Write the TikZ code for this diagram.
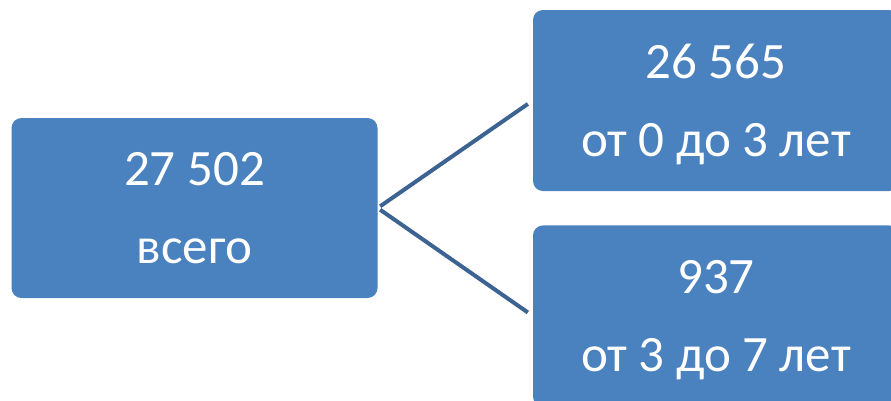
\documentclass[tikz,border=0pt]{standalone}
\usepackage{fontspec}
\setmainfont{Carlito}
\usepackage{xcolor}
\usetikzlibrary{positioning}
\definecolor{boxfill}{HTML}{4A81BF}
\definecolor{linkline}{HTML}{3D6393}

\begin{document}
\begin{tikzpicture}[
        x=1pt, y=1pt,
        every node/.style={
            rectangle,
            fill=boxfill,
            text=white,
            align=center,
            rounded corners=10pt,
            inner sep=0pt,
            text depth=0pt,
            minimum width=366pt,
            minimum height=181pt,
            font=\fontsize{51}{78}\selectfont
        },
        link/.style={
            draw=linkline,
            line width=4pt,
            shorten <=3pt,
            shorten >=6pt
        }
    ]
        \useasboundingbox (0,0) rectangle (891,-400);
        \clip (0,0) rectangle (891,-400);
        \node (total) [minimum height=180pt] at (194.5,-208) {27 502\\всего};
        \node (young) at (716,-100.5) {26 565\\от 0 до 3 лет};
        \node (older) [below=34pt of young] {937\\от 3 до 7 лет};

        \draw[link] (total.east) -- (young.west);
        \draw[link] (total.east) -- (older.west);
    \end{tikzpicture}
\end{document}
